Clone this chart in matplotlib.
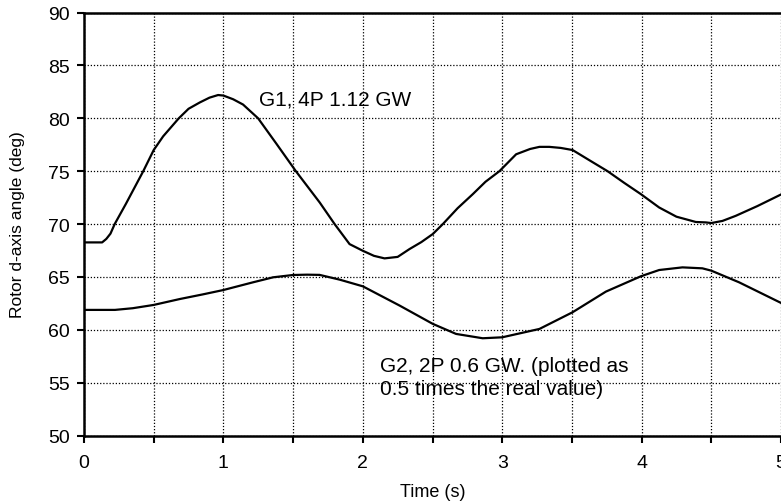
import matplotlib
matplotlib.use("Agg")
import matplotlib.pyplot as plt
from matplotlib.ticker import MultipleLocator

# Rotor d-axis angle traces (deg) versus time (s)
g1_time = [0.0, 0.13, 0.16, 0.19, 0.22, 0.30, 0.425, 0.5, 0.568, 0.68, 0.75,
           0.831, 0.90, 0.962, 1.0, 1.07, 1.141, 1.249, 1.38, 1.52, 1.691,
           1.798, 1.905, 2.0, 2.08, 2.156, 2.25, 2.335, 2.42, 2.502, 2.574,
           2.68, 2.789, 2.88, 2.98, 3.1, 3.2, 3.267, 3.338, 3.42, 3.505,
           3.63, 3.756, 3.875, 3.995, 4.126, 4.25, 4.389, 4.46, 4.5, 4.58,
           4.675, 4.83, 5.0]
g1_angle = [68.27, 68.27, 68.6, 69.1, 70.0, 71.9, 75.0, 77.0, 78.3, 80.0, 80.9,
            81.5, 81.95, 82.2, 82.15, 81.8, 81.3, 80.0, 77.6, 75.0, 72.04,
            70.0, 68.11, 67.48, 67.0, 66.76, 66.9, 67.64, 68.3, 69.06, 70.0,
            71.5, 72.83, 74.0, 75.0, 76.6, 77.1, 77.3, 77.3, 77.2, 77.0,
            76.0, 75.0, 73.9, 72.83, 71.57, 70.7, 70.2, 70.16, 70.1, 70.3,
            70.78, 71.7, 72.8]

g2_time = [0.0, 0.222, 0.35, 0.5, 0.688, 0.85, 1.0, 1.213, 1.356, 1.5, 1.6,
           1.69, 1.834, 2.0, 2.264, 2.502, 2.669, 2.86, 3.0, 3.267, 3.505,
           3.744, 3.995, 4.126, 4.293, 4.436, 4.5, 4.699, 5.0]
g2_angle = [61.89, 61.89, 62.05, 62.36, 62.92, 63.35, 63.77, 64.5, 64.97, 65.19,
            65.22, 65.2, 64.75, 64.12, 62.3, 60.57, 59.62, 59.21, 59.3, 60.09,
            61.67, 63.62, 65.07, 65.66, 65.91, 65.82, 65.6, 64.5, 62.55]

g1_label = "G1, 4P 1.12 GW"
g2_label = "G2, 2P 0.6 GW. (plotted as\n0.5 times the real value)"

plt.rcParams["font.family"] = ["Liberation Sans", "DejaVu Sans"]

fig = plt.figure(figsize=(7.81, 5.02), dpi=100)
ax = fig.add_axes([84 / 781, 1 - 436.7 / 502, 1 - 84 / 781, (436.7 - 13.5) / 502])

ax.plot(g1_time, g1_angle, color="black", lw=1.6, zorder=3)
ax.plot(g2_time, g2_angle, color="black", lw=1.6, zorder=3)

ax.set_xlim(0, 5)
ax.set_ylim(50, 90)
ax.xaxis.set_major_locator(MultipleLocator(1))
ax.xaxis.set_minor_locator(MultipleLocator(0.5))
ax.yaxis.set_major_locator(MultipleLocator(5))

ax.grid(True, which="both", axis="x", color="black", linestyle=(0, (1, 1.5)), lw=0.9)
ax.grid(True, which="major", axis="y", color="black", linestyle=(0, (1, 1.5)), lw=0.9)
ax.set_axisbelow(True)

for side in ("left", "bottom", "top"):
    ax.spines[side].set_linewidth(1.8)
ax.spines["right"].set_visible(False)

ax.tick_params(axis="both", which="major", direction="out", length=5, width=1.5,
               labelsize=14)
ax.tick_params(axis="x", which="major", pad=8)
ax.tick_params(axis="y", which="major", pad=5)
ax.tick_params(axis="x", which="minor", direction="out", length=5, width=1.5)

ax.set_xlabel("Time (s)", fontsize=13, labelpad=9)
ax.set_ylabel("Rotor d-axis angle (deg)", fontsize=12.5, labelpad=17)

ax.text(1.256, 81.8, g1_label, fontsize=15, ha="left", va="center")
ax.text(2.12, 55.55, g2_label, fontsize=15, ha="left", va="center", linespacing=1.25)

fig.savefig("out.png", dpi=100)
